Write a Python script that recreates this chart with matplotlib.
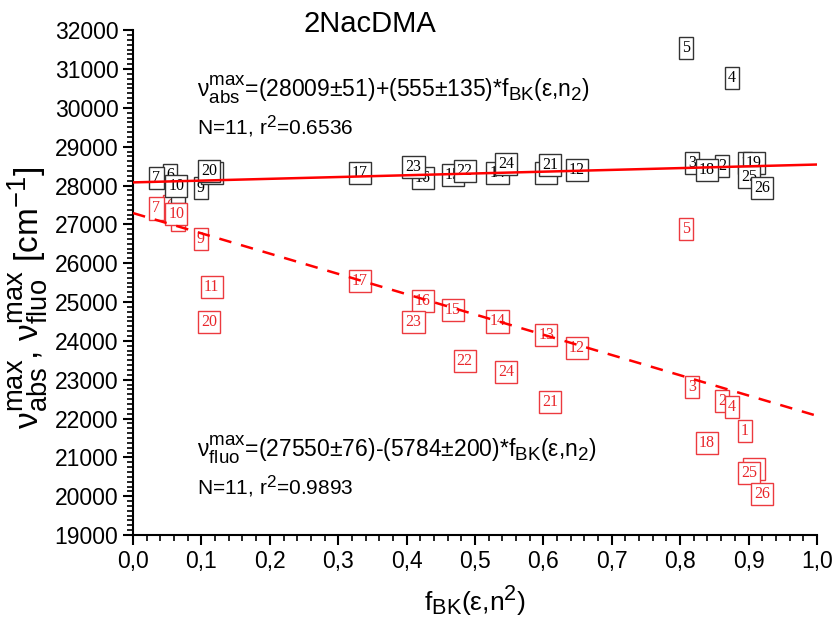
import numpy as np
import matplotlib
import matplotlib.pyplot as plt
from matplotlib.ticker import MultipleLocator, AutoMinorLocator, FuncFormatter

plt.rcParams['font.family'] = 'sans-serif'
plt.rcParams['font.sans-serif'] = ['Liberation Sans']
plt.rcParams['mathtext.fontset'] = 'custom'
plt.rcParams['mathtext.rm'] = 'Liberation Sans'
plt.rcParams['mathtext.it'] = 'Liberation Sans:italic'
plt.rcParams['mathtext.bf'] = 'Liberation Sans:bold'

# Origin draws sub/superscripts larger than mathtext does
try:
    import matplotlib._mathtext as _mt
    _mt.SHRINK_FACTOR = 0.82
except Exception:
    pass

# solvent numbers and f_BK(eps, n^2) values
solvent_ids = list(range(1, 27))
f_bk = [0.895, 0.861, 0.817, 0.876, 0.809, 0.054, 0.034, 0.066, 0.099, 0.063,
        0.115, 0.649, 0.604, 0.533, 0.468, 0.424, 0.332, 0.839, 0.908, 0.111,
        0.610, 0.485, 0.410, 0.545, 0.901, 0.920]

# absorption maxima [cm-1]
nu_abs = [28577, 28500, 28577, 30764, 31537, 28268, 28190, 27830, 27933, 27984,
          28319, 28396, 28320, 28320, 28268, 28190, 28319, 28396, 28577, 28371,
          28525, 28371, 28474, 28551, 28216, 27933]

# fluorescence maxima [cm-1]
nu_fluo = [21680, 22450, 22810, 22300, 26880, 27470, 27410, 27110, 26620, 27260,
           25385, 23815, 24150, 24500, 24790, 25020, 25540, 21370, 20700, 24480,
           22425, 23480, 24480, 23200, 20600, 20060]

# fit lines as drawn
fit_x = [0.0, 1.0]
fit_abs = [28080, 28540]
fit_fluo = [27290, 22070]

abs_eq = r'$\mathrm{\nu}^{\mathrm{max}}_{\mathrm{abs}}$=(28009±51)+(555±135)*f$_{\mathrm{BK}}$(ε,n$_{\mathrm{2}}$)'
abs_stat = r'N=11, r$^{\mathrm{2}}$=0.6536'
fluo_eq = r'$\mathrm{\nu}^{\mathrm{max}}_{\mathrm{fluo}}$=(27550±76)-(5784±200)*f$_{\mathrm{BK}}$(ε,n$_{\mathrm{2}}$)'
fluo_stat = r'N=11, r$^{\mathrm{2}}$=0.9893'

fig = plt.figure(figsize=(8.37, 6.28), dpi=100)
ax = fig.add_axes([0.159, 0.148, 0.817, 0.804])

ax.set_xlim(0, 1.0)
ax.set_ylim(19000, 32000)

# numbered boxes (later numbers on top)
for i, (sid, x, ya, yf) in enumerate(zip(solvent_ids, f_bk, nu_abs, nu_fluo)):
    ax.text(x, ya, str(sid), ha='center', va='center', fontsize=11.5,
            family='Liberation Serif', color='black', zorder=3 + i * 0.01,
            bbox=dict(boxstyle='square,pad=0.2', fc='white', ec='#333333', lw=1.0))
    ax.text(x, yf, str(sid), ha='center', va='center', fontsize=11.5,
            family='Liberation Serif', color='#e8262b', zorder=3 + i * 0.01,
            bbox=dict(boxstyle='square,pad=0.2', fc='white', ec='#ec3a3f', lw=1.0))

ax.plot(fit_x, fit_abs, color='#ff0000', lw=1.8, zorder=5)
ax.plot(fit_x, fit_fluo, color='#ff0000', lw=1.8, ls=(0, (5, 4)), zorder=5)

ax.text(0.094, 0.881, abs_eq, transform=ax.transAxes, fontsize=16.5, va='center')
ax.text(0.094, 0.808, abs_stat, transform=ax.transAxes, fontsize=15, va='center')
ax.text(0.094, 0.168, fluo_eq, transform=ax.transAxes, fontsize=16.5, va='center')
ax.text(0.094, 0.095, fluo_stat, transform=ax.transAxes, fontsize=15, va='center')

fig.text(0.442, 0.962, '2NacDMA', fontsize=21, ha='center', va='center')

ax.set_xlabel(r'f$_{\mathrm{BK}}$(ε,n$^{\mathrm{2}}$)', fontsize=19, labelpad=9)
ax.set_ylabel(r'$\mathrm{\nu}^{\mathrm{max}}_{\mathrm{abs}}$, $\mathrm{\nu}^{\mathrm{max}}_{\mathrm{fluo}}$ [cm$^{\mathrm{-1}}$]',
              fontsize=24)
ax.yaxis.set_label_coords(-0.122, 0.47)

ax.xaxis.set_major_locator(MultipleLocator(0.1))
ax.xaxis.set_minor_locator(MultipleLocator(0.02))
ax.xaxis.set_major_formatter(FuncFormatter(lambda v, p: f'{v:.1f}'.replace('.', ',')))
ax.yaxis.set_major_locator(MultipleLocator(1000))
ax.yaxis.set_minor_locator(AutoMinorLocator(8))

ax.spines['top'].set_visible(False)
ax.spines['right'].set_visible(False)
for s in ['left', 'bottom']:
    ax.spines[s].set_linewidth(1.5)
ax.tick_params(which='major', length=7, width=1.5, labelsize=16.5, direction='out')
ax.tick_params(which='minor', length=4, width=1.2, direction='out')

fig.savefig('out.png', dpi=100)
